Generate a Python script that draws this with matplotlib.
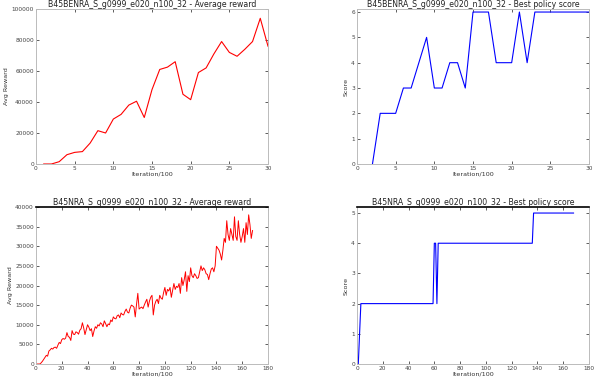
import matplotlib.pyplot as plt

# top run: B45BENRA ... (30 x 100 iterations)
top_iter = list(range(1, 31))
top_reward = [0, 0, 1500, 6000, 7500, 8000, 13500, 21500, 20000, 29000,
              32000, 38000, 40500, 30000, 48000, 61000, 62500, 66000, 45000, 41500,
              59000, 62000, 71000, 79000, 72000, 69500, 74000, 79000, 94000, 76000]
top_score_iter = list(range(2, 31))
top_score = [0, 2, 2, 2, 3, 3, 4, 5, 3, 3,
             4, 4, 3, 6, 6, 6, 4, 4, 4, 6,
             4, 6, 6, 6, 6, 6, 6, 6, 6]

# bottom run: B45NRA ... (168 x 100 iterations)
bot_reward = [0, 0, 0, 0, 300, 700, 1200, 1700, 2200, 2000,
              3300, 3600, 4000, 3800, 4200, 4300, 4000, 4800, 5500, 5200,
              6200, 6500, 6300, 6600, 8000, 7000, 6800, 6000, 8500, 7600,
              7500, 8200, 8000, 7600, 8600, 9000, 10500, 9200, 7500, 8800,
              10000, 9400, 8500, 9000, 7000, 8400, 9500, 9100, 10000, 9700,
              10500, 10200, 9500, 11000, 10300, 9500, 10200, 10000, 11200, 10800,
              12000, 11600, 11500, 12300, 12500, 11800, 13000, 12600, 12500, 13400,
              14000, 13200, 13000, 14200, 15000, 14800, 14500, 12000, 15200, 18000,
              14000, 14300, 14500, 14100, 15000, 15800, 16500, 14500, 16000, 17000,
              17500, 12500, 15000, 16000, 16500, 15400, 17500, 16800, 16500, 18200,
              19500, 17500, 19000, 18600, 19500, 17000, 18800, 20500, 19000, 19800,
              19500, 20500, 18000, 22000, 20000, 21500, 23500, 18500, 22500, 21000,
              24500, 22500, 22000, 23000, 22500, 21800, 22000, 23500, 25000, 23800,
              24500, 24000, 23000, 22800, 21500, 23000, 24200, 24500, 23500, 25000,
              30000, 29500, 29000, 28000, 26500, 29000, 32000, 31000, 36500, 33000,
              31500, 34500, 33000, 31500, 37500, 32500, 31500, 36500, 33000, 31000,
              32500, 34500, 31000, 36000, 33000, 38000, 35500, 32000, 34000]
bot_iter = list(range(len(bot_reward)))
bot_score = [0, 0, 1, 2] + [2] * 56 + [4, 4, 2, 4] + [4] * 73 + [5] * 32
bot_score_iter = list(range(len(bot_score)))

fig = plt.figure(figsize=(5.94, 3.80), dpi=100)

W = 232 / 594
axes = {
    'tl': fig.add_axes([36 / 594, 216 / 380, W, 155 / 380]),
    'tr': fig.add_axes([357 / 594, 216 / 380, W, 155 / 380]),
    'bl': fig.add_axes([36 / 594, 16 / 380, W, 157 / 380]),
    'br': fig.add_axes([357 / 594, 16 / 380, W, 157 / 380]),
}


def style(ax, title, ylabel, black_top):
    ax.set_title(title, fontsize=5.6, pad=1.5, color='#222222')
    ax.set_xlabel('Iteration/100', fontsize=4.6, labelpad=0.5, color='#333333')
    ax.set_ylabel(ylabel, fontsize=4.6, labelpad=1.5, color='#333333')
    ax.tick_params(direction='in', length=2.5, width=0.6, labelsize=4.2,
                   top=True, right=True, pad=1.5, colors='#444444')
    for name, sp in ax.spines.items():
        sp.set_color('#bbbbbb')
        sp.set_linewidth(0.7)
    if black_top:
        ax.spines['top'].set_color('black')
        ax.spines['top'].set_linewidth(1.2)


ax = axes['tl']
ax.plot(top_iter, top_reward, color='red', lw=0.8)
ax.set_xlim(0, 30)
ax.set_ylim(0, 100000)
ax.set_xticks(range(0, 31, 5))
ax.set_yticks(range(0, 100001, 20000))
style(ax, 'B45BENRA_S_g0999_e020_n100_32 - Average reward', 'Avg Reward', False)

ax = axes['tr']
ax.plot(top_score_iter, top_score, color='blue', lw=0.8)
ax.set_xlim(0, 30)
ax.set_ylim(0, 6.12)
ax.set_xticks(range(0, 31, 5))
ax.set_yticks(range(0, 7))
style(ax, 'B45BENRA_S_g0999_e020_n100_32 - Best policy score', 'Score', False)

ax = axes['bl']
ax.plot(bot_iter, bot_reward, color='red', lw=0.7)
ax.set_xlim(0, 180)
ax.set_ylim(0, 40000)
ax.set_xticks(range(0, 181, 20))
ax.set_yticks(range(0, 40001, 5000))
style(ax, 'B45NRA_S_g0999_e020_n100_32 - Average reward', 'Avg Reward', True)

ax = axes['br']
ax.plot(bot_score_iter, bot_score, color='blue', lw=0.8)
ax.set_xlim(0, 180)
ax.set_ylim(0, 5.2)
ax.set_xticks(range(0, 181, 20))
ax.set_yticks(range(0, 6))
style(ax, 'B45NRA_S_g0999_e020_n100_32 - Best policy score', 'Score', True)

fig.savefig('out.png', dpi=100)
